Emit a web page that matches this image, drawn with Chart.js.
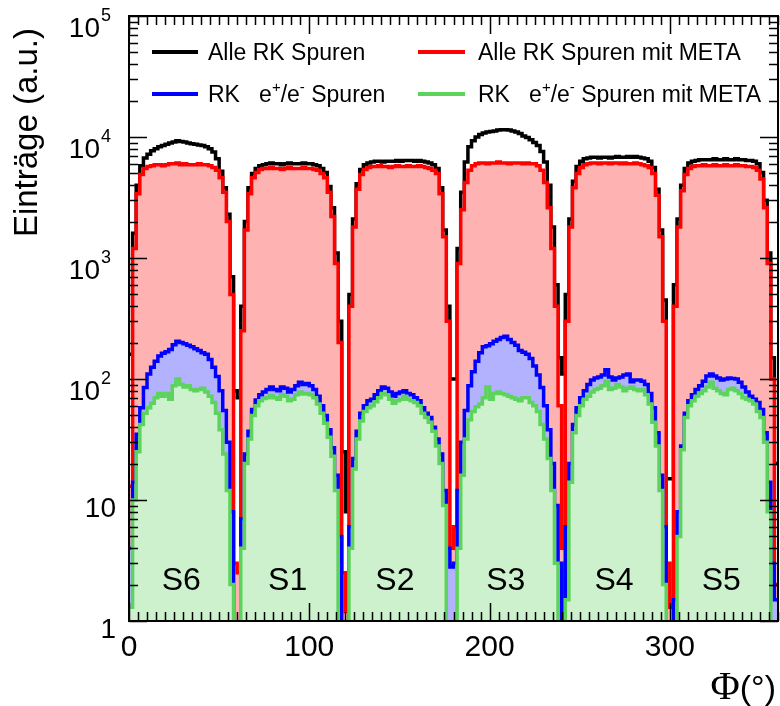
<!DOCTYPE html>
<html>
<head>
<meta charset="utf-8">
<title>Phi distribution of RK tracks</title>
<script src="https://cdn.jsdelivr.net/npm/chart.js"></script>
<style>
  html, body { margin: 0; padding: 0; background: #fff; }
</style>
</head>
<body>
<canvas id="phiChart" width="780" height="706"></canvas>
<script>
// histogram bins are 2 degrees wide, 30 bins per sector, sectors S6,S1,...,S5
var binWidth = 2;

var blackVals = [
  160, 1600, 4000, 5800, 6700, 7200, 7700, 8000, 8300, 8500, 8700, 8900, 9100, 9300, 9200, 9100, 8900, 8800, 8700, 8600, 8500, 8300, 8000, 7500, 6600, 5200, 3800, 2300, 700, 80,
  70, 400, 2000, 3800, 5000, 5500, 5800, 5900, 6000, 6100, 6000, 6000, 5900, 6000, 6100, 6000, 6000, 6000, 6100, 6000, 6000, 5900, 5800, 5500, 5100, 3900, 2600, 1100, 300, 25,
  8, 500, 2100, 4100, 5400, 5900, 6100, 6200, 6300, 6300, 6200, 6300, 6300, 6300, 6400, 6300, 6400, 6400, 6400, 6300, 6400, 6300, 6200, 6100, 5900, 5500, 3800, 1700, 400, 100,
  100, 1200, 3500, 6200, 8300, 9300, 10000, 10500, 10800, 11000, 11100, 11200, 11400, 11500, 11500, 11400, 11200, 11000, 10700, 10200, 9900, 9500, 9000, 8500, 7600, 6200, 4000, 1800, 600, 150,
  110, 500, 2100, 4300, 5700, 6300, 6600, 6700, 6800, 6800, 6700, 6800, 6800, 6700, 6800, 6900, 6800, 6800, 6900, 6800, 6900, 6800, 6700, 6600, 6300, 5600, 3700, 1700, 450, 15,
  15, 600, 2100, 4000, 5500, 6100, 6300, 6400, 6500, 6500, 6500, 6500, 6600, 6500, 6500, 6600, 6500, 6500, 6600, 6500, 6500, 6400, 6400, 6300, 6000, 5100, 3000, 1100, 150, 20
];

var redVals = [
  13, 1200, 3400, 4900, 5500, 5700, 5800, 5900, 5900, 5800, 5900, 6000, 6000, 6100, 5900, 6000, 5900, 5900, 5900, 6000, 5900, 5900, 5800, 5600, 5300, 4600, 3500, 2000, 500, 3,
  2.5, 250, 1700, 3400, 4600, 5100, 5400, 5500, 5500, 5600, 5500, 5500, 5400, 5500, 5600, 5500, 5500, 5500, 5600, 5500, 5500, 5400, 5300, 5000, 4600, 3500, 2200, 900, 200, 2.5,
  1.2, 400, 1800, 3700, 4900, 5400, 5600, 5700, 5700, 5800, 5700, 5700, 5600, 5700, 5800, 5700, 5700, 5800, 5700, 5700, 5800, 5700, 5600, 5500, 5300, 5000, 3400, 1500, 300, 4,
  6, 900, 2500, 4200, 5300, 5800, 6000, 6100, 6100, 6000, 6100, 6100, 6200, 6100, 6100, 6000, 6100, 6100, 6100, 6000, 6100, 6000, 6000, 5800, 5300, 4200, 2600, 1200, 400, 60,
  4, 300, 1800, 3800, 5000, 5600, 5900, 6000, 6100, 6100, 6000, 6100, 6100, 6000, 6100, 6100, 6000, 6100, 6000, 6000, 6100, 6000, 5900, 5800, 5600, 5000, 3300, 1500, 300, 3,
  1.3, 400, 1800, 3600, 4900, 5500, 5700, 5800, 5800, 5900, 5800, 5800, 5900, 5800, 5800, 5900, 5800, 5800, 5900, 5800, 5800, 5700, 5700, 5600, 5300, 4500, 2600, 900, 100, 2
];

var blueVals = [
  4, 14, 35, 58, 85, 110, 125, 140, 155, 163, 168, 175, 192, 205, 200, 196, 190, 185, 178, 172, 165, 160, 145, 125, 105, 80, 55, 30, 8, 0.6,
  0.6, 7, 24, 37, 56, 67, 74, 78, 82, 86, 82, 80, 86, 84, 78, 82, 88, 94, 90, 92, 88, 82, 72, 60, 50, 38, 27, 16, 5, 0.6,
  0.6, 6, 22, 37, 52, 60, 66, 68, 74, 80, 86, 84, 78, 72, 76, 78, 80, 76, 74, 70, 66, 58, 52, 48, 40, 32, 24, 12, 4, 2.8,
  3, 12, 30, 55, 88, 115, 140, 165, 185, 188, 196, 205, 212, 220, 226, 212, 200, 190, 172, 166, 160, 148, 128, 108, 85, 60, 38, 20, 9, 3,
  0.6, 6, 20, 42, 58, 70, 80, 90, 98, 102, 104, 108, 119, 104, 98, 102, 104, 108, 110, 95, 98, 98, 96, 90, 76, 58, 36, 16, 6, 0.6,
  0.6, 1.5, 8, 28, 52, 66, 74, 82, 88, 96, 106, 110, 106, 102, 98, 100, 102, 101, 100, 94, 86, 78, 72, 68, 64, 56, 36, 14, 3, 1.5
];

var greenVals = [
  1.3, 10, 25, 42, 52, 58, 63, 70, 76, 72, 76, 68, 88, 100, 90, 86, 88, 82, 80, 82, 84, 78, 72, 64, 52, 38, 24, 12, 2, 0.5,
  0.5, 4, 20, 32, 50, 60, 66, 69, 70, 73, 70, 68, 74, 72, 66, 68, 74, 78, 75, 76, 74, 70, 62, 52, 43, 33, 23, 12, 0.5, 0.5,
  0.5, 4, 18, 32, 45, 54, 58, 60, 65, 70, 76, 74, 68, 63, 66, 68, 72, 68, 66, 64, 60, 52, 48, 44, 37, 28, 20, 9, 0.5, 0.5,
  0.5, 4, 16, 32, 46, 54, 59, 62, 70, 86, 68, 76, 78, 76, 74, 72, 70, 68, 66, 70, 70, 64, 60, 54, 42, 32, 22, 12, 3, 0.5,
  0.5, 1.5, 14, 36, 50, 60, 68, 72, 78, 82, 84, 88, 96, 82, 84, 90, 86, 80, 84, 86, 82, 80, 82, 74, 62, 44, 28, 12, 2, 0.5,
  0.5, 0.5, 5, 26, 48, 60, 66, 72, 76, 80, 86, 94, 84, 80, 76, 74, 82, 84, 80, 76, 70, 68, 66, 62, 54, 48, 30, 8, 0.5, 0.5
];

var seriesNames = ['Alle RK Spuren', 'Alle RK Spuren mit META', 'RK   e^{+}/e^{-} Spuren', 'RK   e^{+}/e^{-} Spuren mit META'];
var lineColors = ['#000000', '#ff0000', '#0000ff', '#5cd35c'];
var fillColors = [null, 'rgb(255,178,178)', 'rgb(178,178,255)', 'rgb(204,241,204)'];

var sectorNames = ['S6', 'S1', 'S2', 'S3', 'S4', 'S5'];
var sectorLabelX = [29, 88, 147.5, 209, 269, 328.5];
var sectorLabelY = 1.8;

var xLabelValues = [0, 100, 200, 300];
var yLabelPowers = [0, 1, 2, 3, 4, 5];

var FONT = '"Liberation Sans", Arial, sans-serif';

// minor ticks 1..9 per decade
var yTickValues = [];
for (var k = 0; k < 5; k++) {
    for (var m = 1; m < 10; m++) yTickValues.push(m * Math.pow(10, k));
}
yTickValues.push(100000);

function toSteps(vals) {
    var pts = vals.map(function (v, i) { return { x: i * binWidth, y: v }; });
    pts.push({ x: vals.length * binWidth, y: vals[vals.length - 1] });
    return pts;
}

function isDecade(v) {
    var l = Math.log10(v);
    return Math.abs(l - Math.round(l)) < 1e-9;
}

// text with ^{...} superscripts
function drawRich(ctx, str, x, y, size) {
    var parts = str.split(/(\^\{[^}]*\})/);
    parts.forEach(function (p) {
        if (!p) return;
        if (p.indexOf('^{') === 0) {
            var t = p.slice(2, -1);
            ctx.font = Math.round(size * 0.65) + 'px ' + FONT;
            ctx.fillText(t, x, y - size * 0.42);
            x += ctx.measureText(t).width;
        } else {
            ctx.font = size + 'px ' + FONT;
            ctx.fillText(p, x, y);
            x += ctx.measureText(p).width;
        }
    });
}

var frameTicks = {
    id: 'frameTicks',
    afterDatasetsDraw: function (chart) {
        var ctx = chart.ctx, a = chart.chartArea, xs = chart.scales.x, ys = chart.scales.y;
        ctx.save();
        ctx.strokeStyle = '#000';
        ctx.lineWidth = 1.5;
        ctx.beginPath();
        xs.ticks.forEach(function (t) {
            var px = Math.round(xs.getPixelForValue(t.value)) + 0.5;
            var len = t.value % 100 === 0 ? 18 : 9;
            ctx.moveTo(px, a.bottom); ctx.lineTo(px, a.bottom - len);
            ctx.moveTo(px, a.top); ctx.lineTo(px, a.top + len);
        });
        ys.ticks.forEach(function (t) {
            var py = Math.round(ys.getPixelForValue(t.value)) + 0.5;
            var len = isDecade(t.value) ? 18 : 9;
            ctx.moveTo(a.left, py); ctx.lineTo(a.left + len, py);
            ctx.moveTo(a.right, py); ctx.lineTo(a.right - len, py);
        });
        ctx.stroke();
        ctx.lineWidth = 2;
        ctx.strokeRect(a.left, a.top, a.right - a.left, a.bottom - a.top);

        // sector names
        ctx.fillStyle = '#000';
        ctx.font = '32px ' + FONT;
        ctx.textAlign = 'center';
        ctx.textBaseline = 'alphabetic';
        sectorNames.forEach(function (s, i) {
            ctx.fillText(s, xs.getPixelForValue(sectorLabelX[i]), ys.getPixelForValue(sectorLabelY));
        });
        ctx.restore();
    },
    afterDraw: function (chart) {
        var ctx = chart.ctx, ys = chart.scales.y;
        ctx.save();
        ctx.fillStyle = '#000';
        ctx.textBaseline = 'alphabetic';

        // y tick labels 1, 10, 10^2 ...
        yLabelPowers.forEach(function (p) {
            var py = ys.getPixelForValue(Math.pow(10, p));
            if (p < 2) {
                ctx.font = '28px ' + FONT;
                ctx.textAlign = 'right';
                ctx.fillText(p === 0 ? '1' : '10', 116, py + 17);
            } else {
                ctx.font = '28px ' + FONT;
                ctx.textAlign = 'right';
                ctx.fillText('10', 100, py + 21);
                ctx.font = '18px ' + FONT;
                ctx.textAlign = 'left';
                ctx.fillText(String(p), 101, py + 5);
            }
        });

        // axis titles
        ctx.save();
        ctx.translate(37, 28);
        ctx.rotate(-Math.PI / 2);
        ctx.textAlign = 'right';
        ctx.font = '33px ' + FONT;
        ctx.fillText('Einträge (a.u.)', 0, 0);
        ctx.restore();

        ctx.textAlign = 'right';
        ctx.font = '34px ' + FONT;
        ctx.fillText('(°)', 776, 699);
        var w = ctx.measureText('(°)').width;
        ctx.font = '40px "Liberation Serif", serif';
        ctx.fillText('Φ', 776 - w, 699);

        // legend
        var cols = [[152, 198, 208], [418, 465, 478]];
        var rows = [52, 94];
        ctx.textAlign = 'left';
        ctx.lineWidth = 4;
        seriesNames.forEach(function (name, i) {
            var c = cols[i % 2], yy = rows[Math.floor(i / 2)];
            ctx.strokeStyle = lineColors[i];
            ctx.beginPath();
            ctx.moveTo(c[0], yy); ctx.lineTo(c[1], yy);
            ctx.stroke();
            drawRich(ctx, name, c[2], yy + 8, 23);
        });
        ctx.restore();
    }
};

var valueSets = [blackVals, redVals, blueVals, greenVals];
var datasets = valueSets.map(function (vals, i) {
    return {
        label: seriesNames[i],
        data: toSteps(vals),
        stepped: true,
        borderColor: lineColors[i],
        borderWidth: 3.5,
        backgroundColor: fillColors[i] || 'transparent',
        fill: fillColors[i] ? 'start' : false,
        pointRadius: 0,
        clip: 0,
        order: 4 - i
    };
});

var ctx = document.getElementById('phiChart').getContext('2d');
var phiChart = new Chart(ctx, {
    type: 'line',
    data: { datasets: datasets },
    options: {
        responsive: false,
        animation: false,
        events: [],
        layout: { padding: { top: 16, right: 2, left: 0, bottom: 0 } },
        plugins: { legend: { display: false }, tooltip: { enabled: false } },
        scales: {
            x: {
                type: 'linear',
                min: 0,
                max: 360,
                grid: { display: false, drawTicks: false },
                border: { display: false },
                ticks: {
                    stepSize: 5,
                    autoSkip: false,
                    maxRotation: 0,
                    padding: 9,
                    color: '#000',
                    font: { family: FONT, size: 30 },
                    callback: function (v) { return xLabelValues.indexOf(v) >= 0 ? String(v) : ''; }
                },
                afterFit: function (s) {
                    s.height = 85;
                    s.paddingLeft = 0;
                    s.paddingRight = 0;
                }
            },
            y: {
                type: 'logarithmic',
                min: 1,
                max: 100000,
                grid: { display: false, drawTicks: false },
                border: { display: false },
                ticks: { display: false },
                afterBuildTicks: function (s) {
                    s.ticks = yTickValues.map(function (v) { return { value: v }; });
                },
                afterFit: function (s) { s.width = 129; }
            }
        }
    },
    plugins: [frameTicks]
});
</script>
</body>
</html>
